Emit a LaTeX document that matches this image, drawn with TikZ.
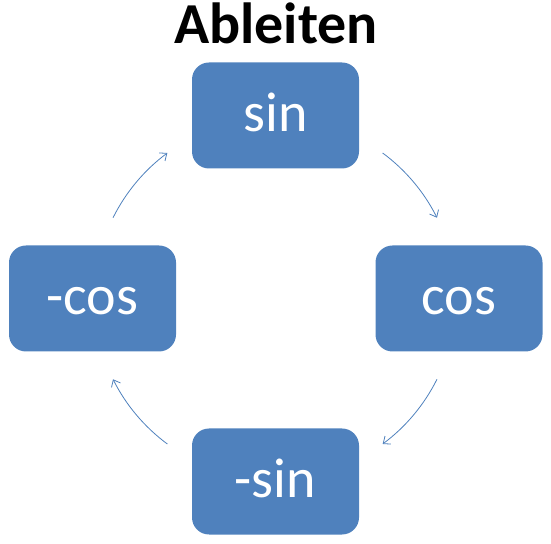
\documentclass[tikz,border=0pt]{standalone}
\usepackage{fontspec}
\setmainfont{Carlito}
\usetikzlibrary{arrows.meta}
\newlength{\du}
\setlength{\du}{10pt}
\definecolor{boxcolor}{rgb}{0.310000, 0.505882, 0.741176}
\tikzset{
  funcbox/.style={fill=boxcolor, rounded corners=1.7\du, minimum width=16.7\du,
    minimum height=10.6\du, text=white, text height=3.2\du, text depth=0pt,
    font=\fontsize{56}{60}\selectfont},
  flow/.style={draw=boxcolor, line width=0.8pt, -{Straight Barb[length=6pt,width=10pt]}}
}

\begin{document}
\begin{tikzpicture}
\useasboundingbox (0\du,0\du) rectangle (55.1\du,54.3\du);
% title
\node[anchor=base, font=\bfseries\fontsize{58}{60}\selectfont] (title) at (27.6\du,49.9\du){Ableiten};
% boxes
\node[funcbox] (sin) at (27.55\du,42.75\du){sin};
\node[funcbox] (cos) at (45.9\du,24.45\du){cos};
\node[funcbox] (msin) at (27.55\du,6.15\du){-sin};
\node[funcbox] (mcos) at (9.25\du,24.45\du){-cos};
% arcs
\coordinate (mid) at (27.5\du,24.45\du);
\draw[flow] (mid) ++(53.5:18.1\du) arc[start angle=53.5, end angle=26.5, radius=18.1\du];
\draw[flow] (mid) ++(-26.5:18.1\du) arc[start angle=-26.5, end angle=-53.5, radius=18.1\du];
\draw[flow] (mid) ++(233.5:18.1\du) arc[start angle=233.5, end angle=206.5, radius=18.1\du];
\draw[flow] (mid) ++(153.5:18.1\du) arc[start angle=153.5, end angle=126.5, radius=18.1\du];
\end{tikzpicture}
\end{document}
